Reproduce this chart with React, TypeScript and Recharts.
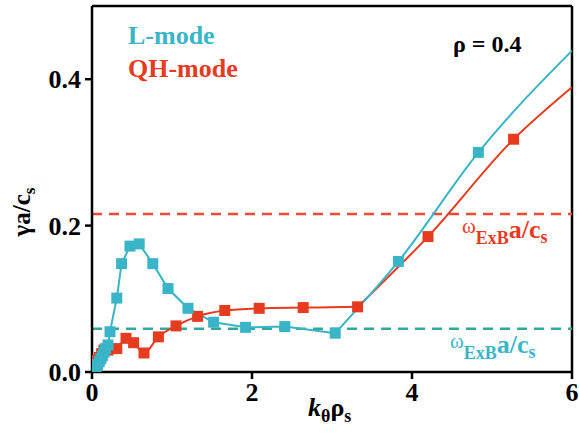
import {
  ComposedChart,
  Line,
  Scatter,
  XAxis,
  YAxis,
  ReferenceLine,
} from 'recharts'

// colours
const TEAL = '#3ab5c7'
const TEAL_DASH = '#2ea99c'
const RED = '#e63b1f'
const RED_DASH = '#ef4a31'
const FONT = '"Liberation Serif", serif'
const txt = { fontFamily: FONT, fontWeight: 'bold' as const }

// L-mode growth rate (markers)
const lModeK = [0.01, 0.03, 0.05, 0.07, 0.09, 0.11, 0.13, 0.15, 0.17, 0.2, 0.225, 0.31, 0.37, 0.475, 0.59, 0.76, 0.95, 1.2, 1.52, 1.92, 2.41, 3.04, 3.83, 4.83]
const lModeGamma = [0.0, 0.003, 0.006, 0.01, 0.014, 0.018, 0.022, 0.027, 0.032, 0.037, 0.055, 0.101, 0.148, 0.172, 0.175, 0.148, 0.114, 0.087, 0.068, 0.061, 0.062, 0.053, 0.151, 0.3]
// fitted curve continues to the edge without a marker
const lModeEnd = { k: 6, gamma: 0.439 }

// QH-mode growth rate (markers)
const qhK = [0.03, 0.06, 0.09, 0.12, 0.15, 0.2, 0.31, 0.425, 0.52, 0.65, 0.83, 1.05, 1.32, 1.66, 2.09, 2.64, 3.32, 4.2, 5.27]
const qhGamma = [0.012, 0.016, 0.02, 0.025, 0.03, 0.03, 0.032, 0.046, 0.04, 0.026, 0.048, 0.063, 0.076, 0.084, 0.087, 0.088, 0.089, 0.185, 0.318]
const qhEnd = { k: 6, gamma: 0.389 }

// ExB shearing rates
const exbQH = 0.216
const exbL = 0.059

const xTicks = [0, 2, 4, 6]
const yTicks = [0, 0.2, 0.4]

const lModePts = lModeK.map((k, i) => ({ k, gamma: lModeGamma[i] }))
const qhPts = qhK.map((k, i) => ({ k, gamma: qhGamma[i] }))
// the curves kink where the steep branch starts
const lBreak = lModeK.indexOf(3.04)
const qhBreak = qhK.indexOf(3.32)
const lModeLow = lModePts.slice(0, lBreak + 1)
const lModeHigh = [...lModePts.slice(lBreak), lModeEnd]
const qhLow = qhPts.slice(0, qhBreak + 1)
const qhHigh = [...qhPts.slice(qhBreak), qhEnd]

const square = (color: string) => (props: any) => {
  const { cx, cy } = props
  if (cx == null || cy == null) return <g />
  return <rect x={cx - 5.5} y={cy - 5.5} width={11} height={11} fill={color} />
}

const exbLabel = (color: string, dx: number) => (props: any) => {
  const vb = props.viewBox
  const x = vb.x + dx
  const y = vb.y + 24
  return (
    <text x={x} y={y} fill={color} style={txt}>
      <tspan fontSize={21} style={{ fontWeight: 'normal' }} dy={-5}>ω</tspan>
      <tspan fontSize={18} dy={11}>ExB</tspan>
      <tspan fontSize={26} dy={-6}>a/c</tspan>
      <tspan fontSize={18} dy={5}>s</tspan>
    </text>
  )
}

const TickText = (anchor: string, dy: number, fmt: (v: number) => string) => (props: any) => {
  const { x, y, payload } = props
  return (
    <text x={x} y={y} dy={dy} textAnchor={anchor} fill="#000" fontSize={26} style={txt}>
      {fmt(payload.value)}
    </text>
  )
}

export default function App() {
  return (
    <div style={{ position: 'relative', width: 579, height: 434, background: '#fff', fontFamily: FONT }}>
      <style>{'body{margin:0}'}</style>
      <ComposedChart width={579} height={434} margin={{ top: 6, right: 7, left: 0, bottom: 0 }}>
        <XAxis
          type="number"
          dataKey="k"
          domain={[0, 6]}
          ticks={xTicks}
          allowDataOverflow
          height={62}
          stroke="#000"
          strokeWidth={2.5}
          tickSize={7}
          tick={TickText('middle', 20, (v) => String(v))}
          label={(p: any) => {
            const vb = p.viewBox
            const cx = vb.x + vb.width / 2
            return (
              <text x={cx - 24} y={vb.y + 44} fill="#000" fontSize={26} style={txt}>
                <tspan style={{ fontStyle: 'italic' }}>k</tspan>
                <tspan fontSize={18} dy={6}>θ</tspan>
                <tspan fontSize={26} dy={-6}>ρ</tspan>
                <tspan fontSize={18} dy={6}>s</tspan>
              </text>
            )
          }}
        />
        <YAxis
          type="number"
          domain={[0, 0.5]}
          ticks={yTicks}
          allowDataOverflow
          width={92}
          stroke="#000"
          strokeWidth={2.5}
          tickSize={7}
          tickMargin={4}
          tick={TickText('end', 9, (v) => v.toFixed(1))}
          label={(p: any) => {
            const vb = p.viewBox
            const cy = vb.y + 206
            return (
              <text
                x={30}
                y={cy}
                transform={`rotate(-90, 30, ${cy})`}
                textAnchor="middle"
                fill="#000"
                fontSize={25}
                style={txt}
              >
                <tspan>γa/c</tspan>
                <tspan fontSize={17} dy={5}>s</tspan>
              </text>
            )
          }}
        />
        <ReferenceLine y={0.5} stroke="#000" strokeWidth={2.5} />
        <ReferenceLine x={6} stroke="#000" strokeWidth={2.5} />
        <ReferenceLine
          y={exbQH}
          stroke={RED_DASH}
          strokeWidth={2.5}
          strokeDasharray="10 7"
          label={exbLabel(RED, 370)}
        />
        <ReferenceLine
          y={exbL}
          stroke={TEAL_DASH}
          strokeWidth={2.5}
          strokeDasharray="10 7"
          label={exbLabel(TEAL, 358)}
        />
        <Line data={qhLow} dataKey="gamma" type="monotone" stroke={RED} strokeWidth={2} dot={false} isAnimationActive={false} />
        <Line data={qhHigh} dataKey="gamma" type="monotone" stroke={RED} strokeWidth={2} dot={false} isAnimationActive={false} />
        <Line data={lModeLow} dataKey="gamma" type="linear" stroke={TEAL} strokeWidth={2} dot={false} isAnimationActive={false} />
        <Line data={lModeHigh} dataKey="gamma" type="monotone" stroke={TEAL} strokeWidth={2} dot={false} isAnimationActive={false} />
        <Scatter data={qhPts} dataKey="gamma" shape={square(RED)} isAnimationActive={false} />
        <Scatter data={lModePts} dataKey="gamma" shape={square(TEAL)} isAnimationActive={false} />
      </ComposedChart>
      <div style={{ ...txt, position: 'absolute', left: 128, top: 21, fontSize: 26, color: TEAL, lineHeight: '30px' }}>
        L-mode
      </div>
      <div style={{ ...txt, position: 'absolute', left: 128, top: 54, fontSize: 26, color: RED, lineHeight: '30px' }}>
        QH-mode
      </div>
      <div style={{ ...txt, position: 'absolute', left: 453, top: 30, fontSize: 24, color: '#000', lineHeight: '28px' }}>
        ρ = 0.4
      </div>
    </div>
  )
}
